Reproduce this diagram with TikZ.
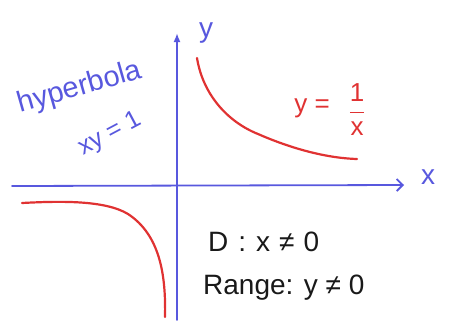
\documentclass[tikz,border=0pt]{standalone}
\usepackage{fontspec}
\setmainfont{Liberation Sans}
\usetikzlibrary{arrows.meta}
\definecolor{penblue}{RGB}{88,88,222}
\definecolor{penred}{RGB}{224,50,50}
\definecolor{penblack}{RGB}{25,25,25}
\tikzset{
  axis/.style={draw=penblue, line width=1.8pt, line cap=round},
  curve/.style={draw=penred, line width=2.2pt, line cap=round},
  bluetext/.style={text=penblue, inner sep=0pt},
  redtext/.style={text=penred, font=\fontsize{26}{26}\selectfont, inner sep=0pt},
  blacktext/.style={text=penblack, font=\fontsize{28}{28}\selectfont, inner sep=0pt, anchor=west},
}
\begin{document}
\begin{tikzpicture}[x=1pt,y=-1pt]
\useasboundingbox (0,0) rectangle (454,327);
% axes
\coordinate (xl) at (12,186);
\coordinate (xr) at (404,185);
\coordinate (yb) at (177,320);
\coordinate (yt) at (177,33);
\draw[axis, -{Straight Barb[length=6pt,width=12pt]}] (xl) -- (xr);
\draw[axis, -{Latex[length=9pt,width=7pt]}] (yb) -- (yt);
\node[bluetext, font=\fontsize{28}{28}\selectfont] (xlab) at (428,177) {x};
\node[bluetext, font=\fontsize{28}{28}\selectfont] (ylab) at (206,33) {y};
% upper branch
\draw[curve] (197,58) .. controls (203,95) and (228,122) .. (258,134)
             .. controls (290,148) and (325,158) .. (357,159);
% lower branch
\draw[curve] (22,203) .. controls (60,201) and (105,200) .. (128,214)
             .. controls (160,235) and (166,275) .. (165,317);
% labels
\node[redtext, anchor=east] (eq) at (330,108) {y =};
\node[redtext] (frac) at (357,110) {$\displaystyle\frac{\textrm{1}}{\textrm{x}}$};
\node[bluetext, font=\fontsize{29}{29}\selectfont, rotate=16] (hyp) at (80,88) {hyperbola};
\node[bluetext, font=\fontsize{25}{25}\selectfont, rotate=28] (xy) at (110,134) {xy = 1};
\node[blacktext] (dom) at (208,242) {D\hspace{10pt}:\hspace{10pt}x\hspace{9pt}≠\hspace{9pt}0};
\node[blacktext] (ran) at (203,288) {Range: y ≠ 0};
\end{tikzpicture}
\end{document}
